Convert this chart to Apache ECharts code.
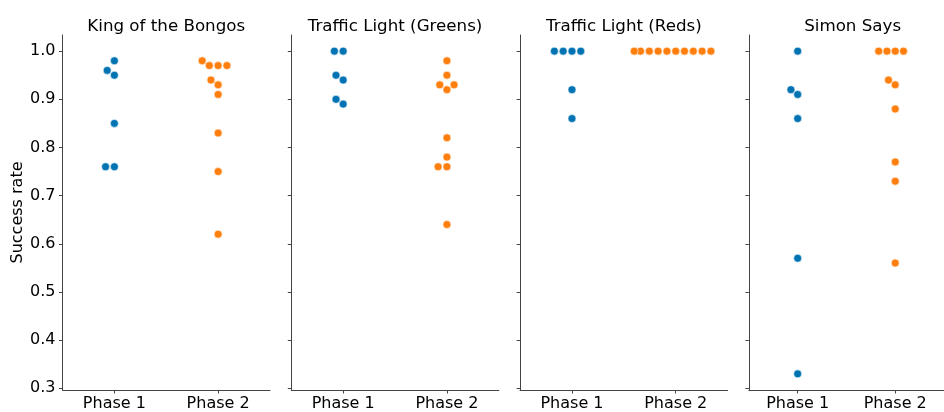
<!DOCTYPE html>
<html>
<head>
<meta charset="utf-8">
<script src="https://cdn.jsdelivr.net/npm/echarts@6/dist/echarts.min.js"></script>
<style>
  html, body { margin: 0; padding: 0; background: #fff; }
  #main { width: 944px; height: 412px; }
</style>
</head>
<body>
<div id="main"></div>
<script>
// panel titles and categories
var panelTitles = ['King of the Bongos', 'Traffic Light (Greens)', 'Traffic Light (Reds)', 'Simon Says'];
var phases = ['Phase 1', 'Phase 2'];
var yTicks = [0.3, 0.4, 0.5, 0.6, 0.7, 0.8, 0.9, 1.0];

// success rates
var bongosPhase1 = [0.98, 0.96, 0.95, 0.85, 0.76, 0.76];
var bongosPhase2 = [0.98, 0.97, 0.97, 0.97, 0.94, 0.93, 0.91, 0.83, 0.75, 0.62];
var greensPhase1 = [1.0, 1.0, 0.95, 0.94, 0.90, 0.89];
var greensPhase2 = [0.98, 0.95, 0.93, 0.93, 0.92, 0.82, 0.78, 0.76, 0.76, 0.64];
var redsPhase1 = [1.0, 1.0, 1.0, 1.0, 0.92, 0.86];
var redsPhase2 = [1.0, 1.0, 1.0, 1.0, 1.0, 1.0, 1.0, 1.0, 1.0, 1.0];
var simonPhase1 = [1.0, 0.92, 0.91, 0.86, 0.57, 0.33];
var simonPhase2 = [1.0, 1.0, 1.0, 1.0, 0.94, 0.93, 0.88, 0.77, 0.73, 0.56];

var panelData = [
  [bongosPhase1, bongosPhase2],
  [greensPhase1, greensPhase2],
  [redsPhase1, redsPhase2],
  [simonPhase1, simonPhase2]
];

var colors = ['#0173b2', '#ff7f0e'];
var font = 'DejaVu Sans';

// layout
var yMin = 0.2965, yMax = 1.0335;
var gridTop = 35, gridHeight = 358.3;
var gridLeft0 = 62.5, gridStep = 228.8, gridWidth = 207.5;
var pxPerX = gridWidth / 2;
var pxPerY = gridHeight / (yMax - yMin);
var dotDiam = 8.38;

// beeswarm like seaborn: sort by value, put each point at the
// free spot closest to the middle (ties go left), clip to +-0.4
function swarmOffsets(values) {
  var pts = values.map(function (v, i) { return { i: i, y: v * pxPerY, x: 0 }; });
  pts.sort(function (a, b) { return a.y - b.y; });
  var placed = [pts[0]];
  for (var k = 1; k < pts.length; k++) {
    var p = pts[k];
    var nb = [];
    for (var j = placed.length - 1; j >= 0; j--) {
      if (p.y - placed[j].y < dotDiam) nb.push(placed[j]);
      else break;
    }
    var cands = [0];
    nb.forEach(function (n) {
      var dy = p.y - n.y;
      var dx = Math.sqrt(Math.max(dotDiam * dotDiam - dy * dy, 0)) * 1.05;
      cands.push(n.x - dx, n.x + dx);
    });
    cands.sort(function (a, b) {
      var d = Math.abs(a) - Math.abs(b);
      if (Math.abs(d) > 1e-6) return d;
      return a - b;
    });
    for (var c = 0; c < cands.length; c++) {
      var ok = nb.every(function (n) {
        var dx = cands[c] - n.x, dy = p.y - n.y;
        return dx * dx + dy * dy >= dotDiam * dotDiam - 1e-6;
      });
      if (ok) { p.x = cands[c]; break; }
    }
    placed.push(p);
  }
  var half = 0.4 * pxPerX;
  var out = [];
  pts.forEach(function (p) {
    var x = Math.max(-half, Math.min(half, p.x));
    out[p.i] = x / pxPerX;
  });
  return out;
}

var grids = [], xAxes = [], yAxes = [], titles = [], series = [];
panelTitles.forEach(function (t, pi) {
  var left = gridLeft0 + pi * gridStep;
  grids.push({ left: left, top: gridTop, width: gridWidth, height: gridHeight });
  titles.push({
    text: t,
    left: left + gridWidth / 2,
    top: 18.5,
    padding: 0,
    textAlign: 'center',
    textStyle: { fontFamily: font, fontSize: 16.7, fontWeight: 'normal', color: '#000' }
  });
  xAxes.push({
    type: 'value', gridIndex: pi, min: -0.5, max: 1.5,
    axisLine: { onZero: false, lineStyle: { color: '#444', width: 1 } },
    axisTick: { show: true, length: 3.5, customValues: [0, 1], lineStyle: { color: '#444' } },
    axisLabel: {
      customValues: [0, 1], margin: 6,
      fontFamily: font, fontSize: 16, color: '#000',
      formatter: function (v) { return phases[Math.round(v)]; }
    },
    splitLine: { show: false }
  });
  yAxes.push({
    type: 'value', gridIndex: pi, min: yMin, max: yMax,
    name: pi === 0 ? 'Success rate' : '',
    nameLocation: 'middle', nameGap: 33,
    nameTextStyle: { fontFamily: font, fontSize: 16, color: '#000' },
    axisLine: { show: true, onZero: false, lineStyle: { color: '#444', width: 1 } },
    axisTick: { show: true, length: 3.5, customValues: yTicks, lineStyle: { color: '#444' } },
    axisLabel: {
      show: pi === 0, customValues: yTicks, margin: 7,
      fontFamily: font, fontSize: 16, color: '#000',
      formatter: function (v) { return v.toFixed(1); }
    },
    splitLine: { show: false }
  });
  panelData[pi].forEach(function (vals, ci) {
    var offs = swarmOffsets(vals);
    series.push({
      type: 'scatter',
      name: phases[ci],
      xAxisIndex: pi, yAxisIndex: pi,
      symbolSize: 8,
      itemStyle: { color: colors[ci], borderColor: '#fff', borderWidth: 0.6, opacity: 1 },
      data: vals.map(function (v, i) { return [ci + offs[i], v]; })
    });
  });
});

var myChart = echarts.init(document.getElementById('main'));
myChart.setOption({
  animation: false,
  backgroundColor: '#fff',
  title: titles,
  grid: grids,
  xAxis: xAxes,
  yAxis: yAxes,
  series: series
});
</script>
</body>
</html>
